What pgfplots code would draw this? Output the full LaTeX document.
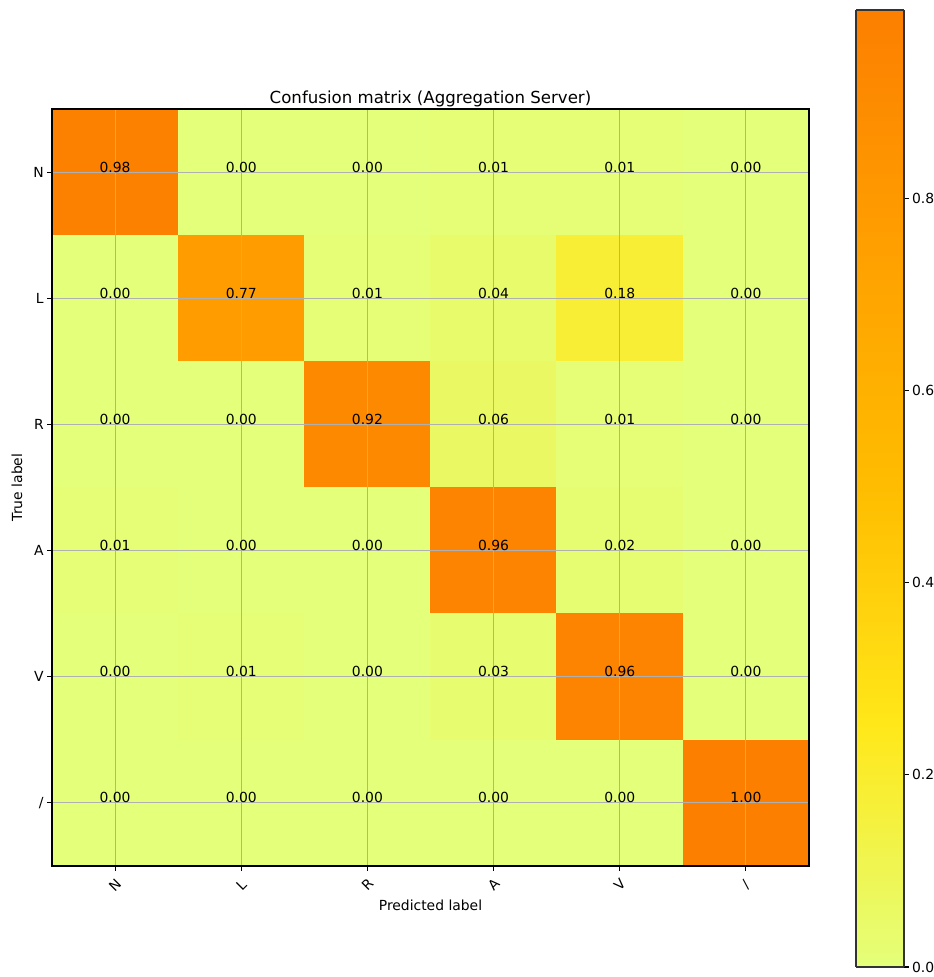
\documentclass[border=0pt]{standalone}
\usepackage{pgfplots}
\pgfplotsset{compat=1.18}
\usepackage{pgfplotstable}
\usepackage{fontspec}
\setmainfont{DejaVu Sans}
\usetikzlibrary{calc}
\definecolor{gridgray}{HTML}{B0B0B0}
\pgfplotstableread{
x y v lab
0 0 0.98 0.98
1 0 0.00 0.00
2 0 0.00 0.00
3 0 0.01 0.01
4 0 0.01 0.01
5 0 0.00 0.00
0 1 0.00 0.00
1 1 0.77 0.77
2 1 0.01 0.01
3 1 0.04 0.04
4 1 0.18 0.18
5 1 0.00 0.00
0 2 0.00 0.00
1 2 0.00 0.00
2 2 0.92 0.92
3 2 0.06 0.06
4 2 0.01 0.01
5 2 0.00 0.00
0 3 0.01 0.01
1 3 0.00 0.00
2 3 0.00 0.00
3 3 0.96 0.96
4 3 0.02 0.02
5 3 0.00 0.00
0 4 0.00 0.00
1 4 0.01 0.01
2 4 0.00 0.00
3 4 0.03 0.03
4 4 0.96 0.96
5 4 0.00 0.00
0 5 0.00 0.00
1 5 0.00 0.00
2 5 0.00 0.00
3 5 0.00 0.00
4 5 0.00 0.00
5 5 0.996 1.00
}\cm
\begin{document}
\begin{tikzpicture}
\path[use as bounding box] (0,0) rectangle (934pt,977pt);
\begin{axis}[
  at={(52pt,111pt)}, anchor=south west,
  scale only axis, width=757pt, height=757pt,
  xmin=-0.5, xmax=5.5, ymin=-0.5, ymax=5.5,
  y dir=reverse,
  font=\fontsize{13.9}{16}\selectfont,
  xtick={0,1,2,3,4,5}, ytick={0,1,2,3,4,5},
  xticklabels={N,L,R,A,V,/}, yticklabels={N,L,R,A,V,/},
  xtick pos=left, ytick pos=left,
  tick align=outside, major tick length=4.8pt,
  tick style={black, line width=1.1pt},
  axis line style={black, line width=1.1pt},
  x tick label style={yshift=-14pt, rotate=45, anchor=center},
  y tick label style={anchor=east},
  grid=major, major grid style={gridgray, line width=1.1pt},
  axis on top,
  title={Confusion matrix (Aggregation Server)},
  title style={font=\fontsize{16.6}{19}\selectfont, at={(axis description cs:0.5,1)}, anchor=base, yshift=0pt},
  xlabel={Predicted label},
  xlabel style={at={(axis description cs:0.5,0)}, anchor=base, yshift=-44pt},
  ylabel={True label},
  ylabel style={at={(axis description cs:-0.0462,0.5)}, anchor=center},
  colormap={wistia}{rgb255(0)=(228,255,122) rgb255(1)=(255,232,26) rgb255(2)=(255,189,0) rgb255(3)=(255,160,0) rgb255(4)=(252,127,0)},
  point meta min=0, point meta max=0.996,
  colorbar sampled,
  colorbar shift/.style={},
  colorbar style={
    samples=200,
    scale only axis, width=48pt, height=957pt,
    at={($(parent axis.south east)+(47pt,-101pt)$)}, anchor=south west,
    ytick={0,0.2,0.4,0.6,0.8}, yticklabels={0.0,0.2,0.4,0.6,0.8},
    ytick pos=right, yticklabel pos=right,
    tick align=outside, major tick length=4.8pt,
    tick style={black, line width=1.1pt},
    axis line style={black!80, line width=1.1pt},
    font=\fontsize{13.9}{16}\selectfont,
    y tick label style={anchor=west, inner sep=3pt},
  },
]
\addplot[matrix plot*, mesh/cols=6, point meta=explicit] table[x=x, y=y, meta=v] {\cm};
\addplot[only marks, mark=*, mark size=0pt, mark options={draw=none, fill=none},
  nodes near coords, point meta=explicit symbolic,
  every node near coord/.style={anchor=base, black, font=\fontsize{13.9}{16}\selectfont, inner sep=0pt}]
  table[x=x, y=y, meta=lab] {\cm};
\end{axis}
\end{tikzpicture}
\end{document}
